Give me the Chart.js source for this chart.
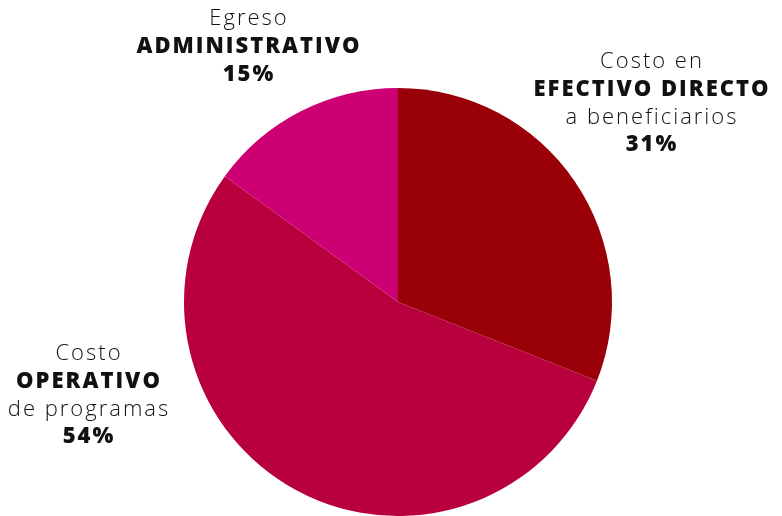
<!DOCTYPE html>
<html>
<head>
<meta charset="utf-8">
<script src="https://cdn.jsdelivr.net/npm/chart.js@4"></script>
<style>
html,body{margin:0;padding:0;background:#fff;}
#wrap{width:782px;height:516px;position:relative;}
</style>
</head>
<body>
<div id="wrap"><canvas id="c"></canvas></div>
<script>
const categories = ["Costo en EFECTIVO DIRECTO a beneficiarios", "Costo OPERATIVO de programas", "Egreso ADMINISTRATIVO"];
const values = [31, 54, 15];
const colors = ["#990008", "#B7003C", "#CC0072"];
const labelLines = [
  [["Costo en", false], ["EFECTIVO DIRECTO", true], ["a beneficiarios", false], ["31%", true]],
  [["Costo", false], ["OPERATIVO", true], ["de programas", false], ["54%", true]],
  [["Egreso", false], ["ADMINISTRATIVO", true], ["15%", true]]
];
const labelAnchors = [[651, 62], [88, 354], [248, 19]];

const labelPlugin = {
  id: 'labels',
  afterDraw(chart) {
    const ctx = chart.ctx;
    ctx.save();
    ctx.fillStyle = '#111';
    ctx.textAlign = 'center';
    ctx.textBaseline = 'middle';
    const sp = 2;
    ctx.letterSpacing = sp + 'px';
    labelLines.forEach((lines, i) => {
      const [x, y] = labelAnchors[i];
      lines.forEach((ln, j) => {
        ctx.font = ln[1] ? '800 22px "Open Sans"' : '300 22px "Open Sans"';
        ctx.fillText(ln[0], x + sp / 2, y + j * 27.7);
      });
    });
    ctx.restore();
  }
};

new Chart(document.getElementById('c'), {
  type: 'pie',
  data: {
    labels: categories,
    datasets: [{ data: values, backgroundColor: colors, borderWidth: 0 }]
  },
  options: {
    responsive: true,
    maintainAspectRatio: false,
    animation: false,
    layout: { padding: { top: 88, bottom: 0, left: 14, right: 0 } },
    plugins: { legend: { display: false }, tooltip: { enabled: false } }
  },
  plugins: [labelPlugin]
});
</script>
</body>
</html>
